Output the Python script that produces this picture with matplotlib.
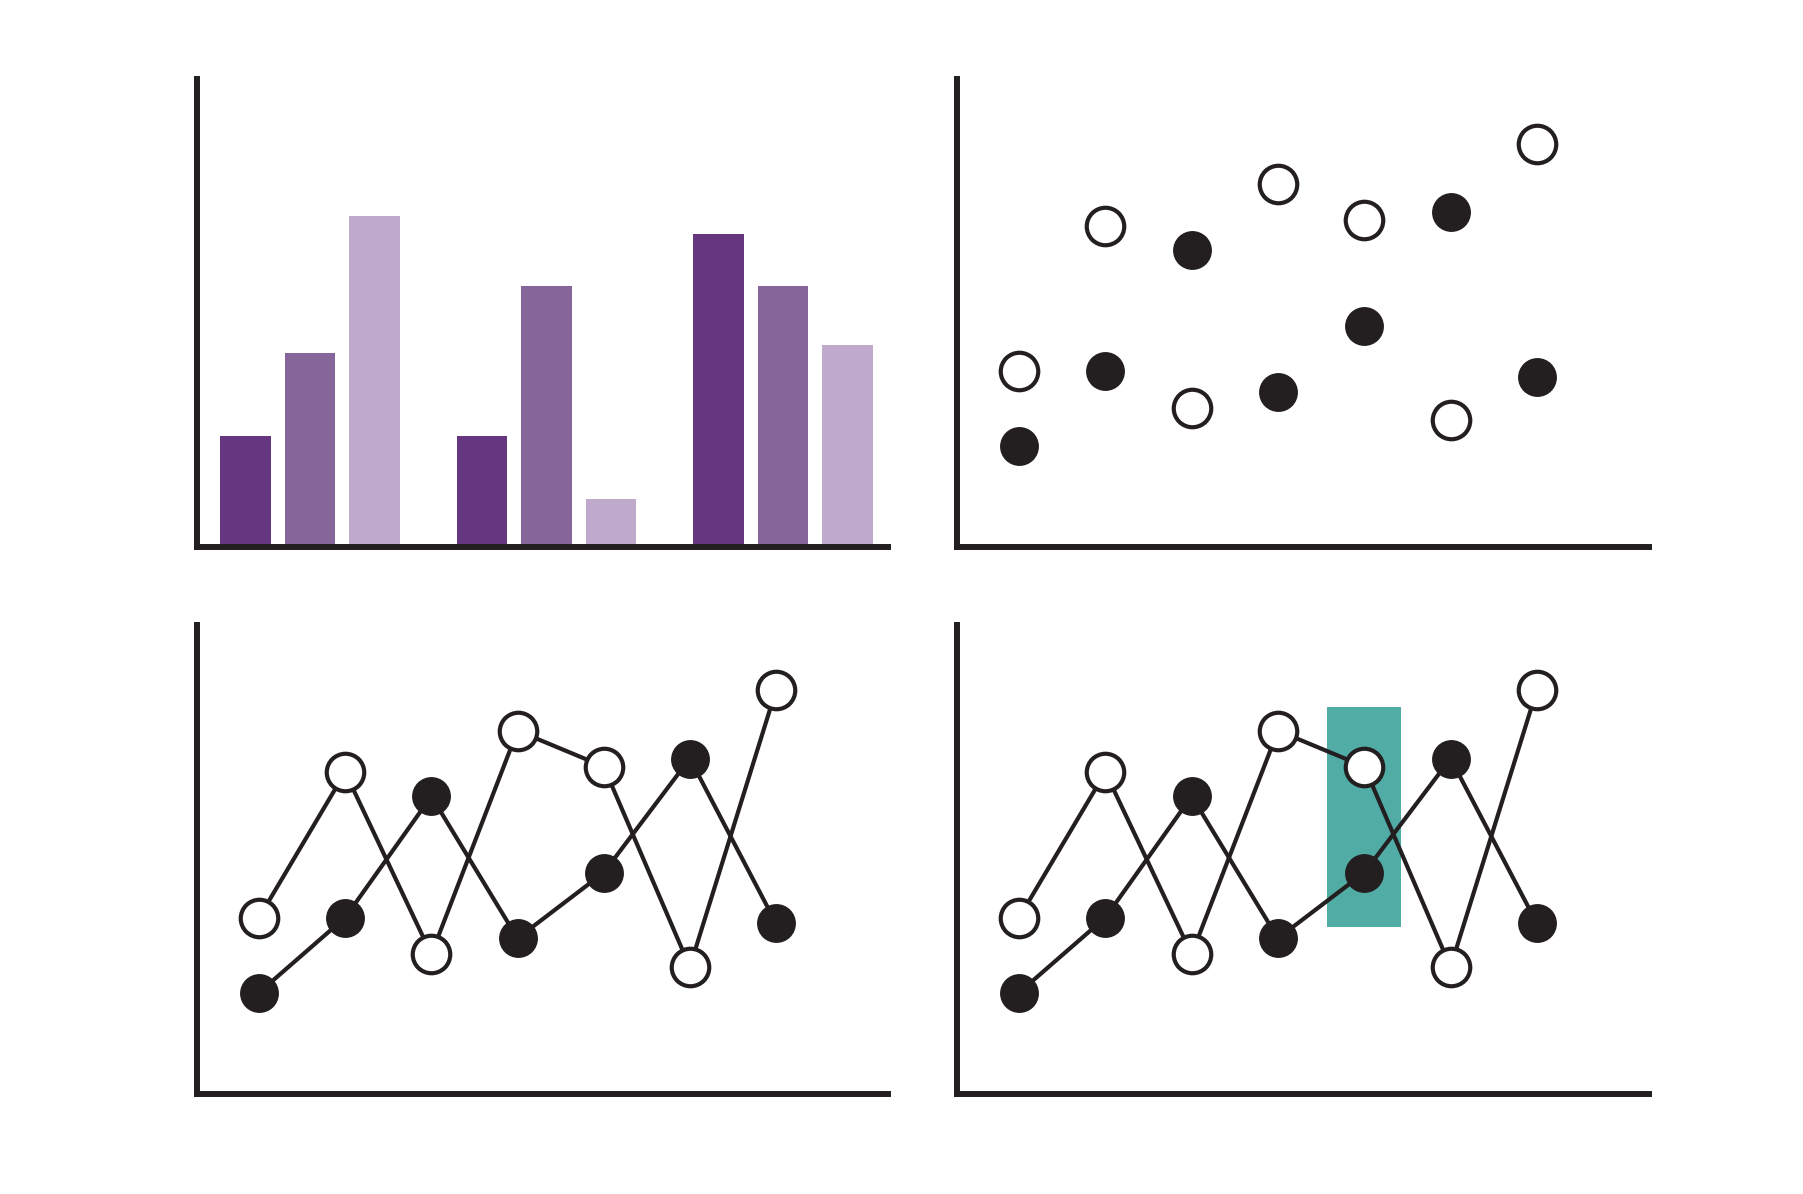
"""
Four small chart-type sketches: grouped bars, scatter, connected lines,
and connected lines with one highlighted column.
"""
import matplotlib
matplotlib.use("Agg")
import matplotlib.pyplot as plt

INK      = "#231f20"
TEAL     = "#52aca6"
PURPLES  = ["#673680", "#86659b", "#bfaacb"]

# ── Data ─────────────────────────────────────────────────────────────────────────
bar_groups = ["A", "B", "C"]
bar_series_1 = [2.35, 2.35, 6.65]
bar_series_2 = [4.13, 5.55, 5.55]
bar_series_3 = [7.02, 1.03, 4.30]

x_points   = [1, 2, 3, 4, 5, 6, 7]
open_vals  = [3.74, 6.82, 2.96, 7.70, 6.94, 2.69, 8.56]
fill_vals  = [2.15, 3.74, 6.31, 3.30, 4.69, 7.11, 3.62]

highlight_x  = 5
highlight_lo = 3.54
highlight_hi = 8.20

# ── Layout (pixel boxes of each axes on a 1803x1194 canvas) ─────────────────────
W, H = 1803, 1194
BOXES = {
    "tl": (197, 79, 888, 547),
    "tr": (957, 79, 1649, 547),
    "bl": (197, 625, 888, 1094),
    "br": (957, 625, 1649, 1094),
}
Y_TOP = 9.94


def _add_axes(fig, key):
    x0, y0, x1, y1 = BOXES[key]
    ax = fig.add_axes([x0 / W, 1 - y1 / H, (x1 - x0) / W, (y1 - y0) / H])
    ax.set_facecolor("white")
    for side in ("top", "right"):
        ax.spines[side].set_visible(False)
    for side in ("left", "bottom"):
        ax.spines[side].set_linewidth(4.3)
        ax.spines[side].set_color(INK)
        ax.spines[side].set_capstyle("projecting")
        ax.spines[side].set_zorder(5)
    ax.set_xticks([])
    ax.set_yticks([])
    ax.set_ylim(0, Y_TOP)
    return ax


def _open_style():
    return dict(marker="o", markersize=27, markerfacecolor="white",
                markeredgecolor=INK, markeredgewidth=3.0)


def _fill_style():
    return dict(marker="o", markersize=28, markerfacecolor=INK,
                markeredgecolor=INK, markeredgewidth=0)


def _line_panel(ax, highlight=False):
    ax.set_xlim(0.28, 8.30)
    if highlight:
        ax.bar(highlight_x, highlight_hi - highlight_lo, bottom=highlight_lo,
               width=0.86, color=TEAL, zorder=1)
    ax.plot(x_points, open_vals, color=INK, linewidth=3.0, zorder=3,
            **_open_style())
    ax.plot(x_points, fill_vals, color=INK, linewidth=3.0, zorder=3,
            **_fill_style())


fig = plt.figure(figsize=(W / 100, H / 100), dpi=100, facecolor="white")

# grouped bars
ax = _add_axes(fig, "tl")
ax.set_xlim(-0.477, 2.444)
offset, width = 0.2725, 0.214
for i, (vals, clr) in enumerate(zip([bar_series_1, bar_series_2, bar_series_3], PURPLES)):
    xs = [g + (i - 1) * offset for g in range(len(bar_groups))]
    ax.bar(xs, vals, width=width, color=clr, zorder=2)

# scatter
ax = _add_axes(fig, "tr")
ax.set_xlim(0.28, 8.30)
ax.plot(x_points, open_vals, linestyle="none", **_open_style())
ax.plot(x_points, fill_vals, linestyle="none", **_fill_style())

# connected lines
_line_panel(_add_axes(fig, "bl"))
_line_panel(_add_axes(fig, "br"), highlight=True)

fig.savefig("out.png", dpi=100, facecolor="white")
plt.close(fig)
